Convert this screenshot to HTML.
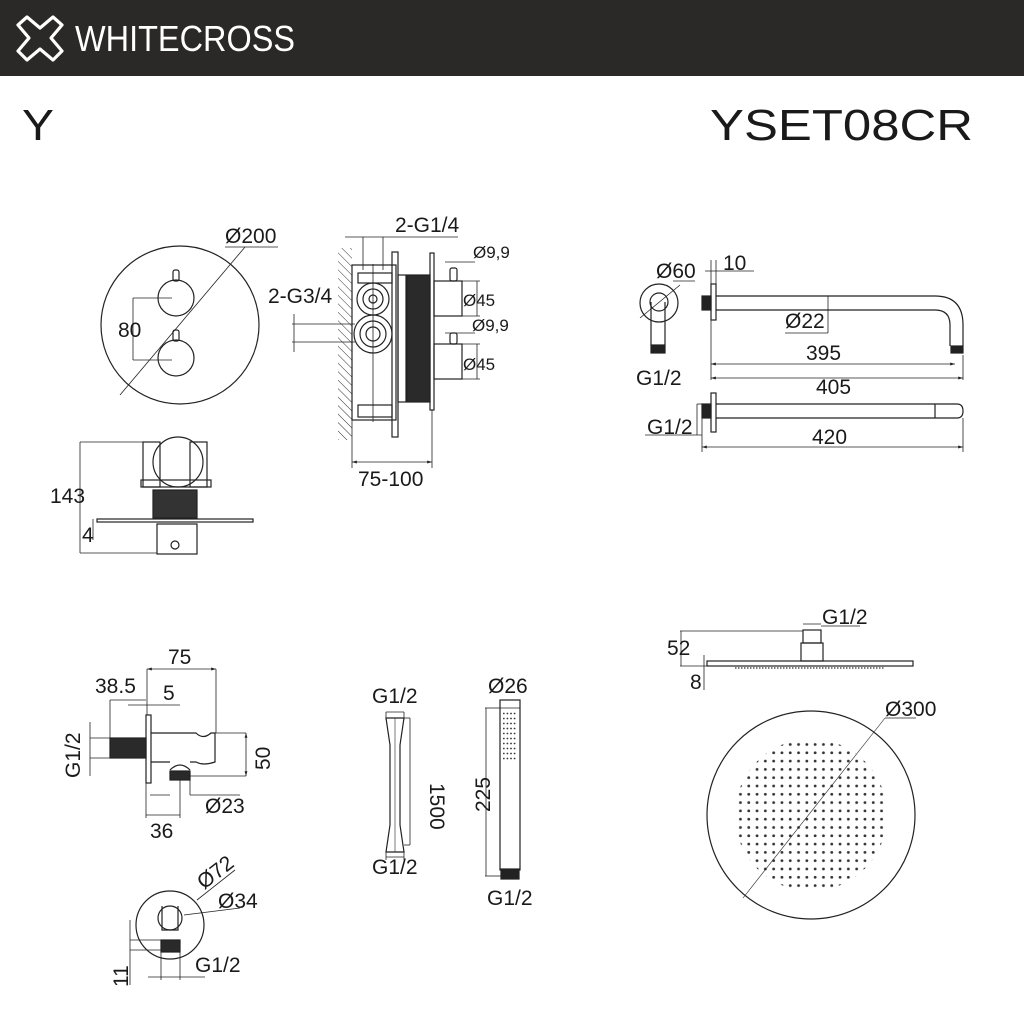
<!DOCTYPE html>
<html><head><meta charset="utf-8"><style>
html,body{margin:0;padding:0;background:#fff}
svg{display:block}
text{font-family:"Liberation Sans",sans-serif;fill:#1a1a1a}
</style></head><body>
<svg width="1024" height="1024" viewBox="0 0 1024 1024" xmlns="http://www.w3.org/2000/svg">
<defs>
<pattern id="hatch" width="6" height="6" patternUnits="userSpaceOnUse" patternTransform="rotate(-45)">
<line x1="0" y1="0" x2="0" y2="6" stroke="#333" stroke-width="1"/></pattern>
<pattern id="dotp" x="811" y="815" width="8.3" height="8.3" patternUnits="userSpaceOnUse">
<circle cx="4.15" cy="4.15" r="1.4" fill="#333"/></pattern>
<pattern id="dotq" x="502" y="711" width="3.6" height="5" patternUnits="userSpaceOnUse">
<circle cx="1.8" cy="2.5" r="0.9" fill="#333"/></pattern>
<marker id="ar" viewBox="0 0 10 10" refX="10" refY="5" markerWidth="6" markerHeight="6" orient="auto-start-reverse"><path d="M0,2 L10,5 L0,8z" fill="#222"/></marker>
</defs>
<rect x="0" y="0" width="1024" height="76" fill="#2b2927"/>
<path d="M27,17 L40,28 L53,17 L62,25 L51,38 L62,51 L53,60 L40,49 L27,60 L18,51 L29,38 L18,25 Z" fill="none" stroke="#fff" stroke-width="3.2" stroke-linejoin="round"/>
<text x="75" y="51" font-size="36" style="fill:#fff" textLength="220" lengthAdjust="spacingAndGlyphs">WHITECROSS</text>
<text x="22" y="140" font-size="44" textLength="32" lengthAdjust="spacingAndGlyphs">Y</text>
<text x="710" y="140" font-size="44" textLength="263" lengthAdjust="spacingAndGlyphs">YSET08CR</text>

<g fill="none" stroke="#222" stroke-width="1.2">
<circle cx="180" cy="325" r="79"/>
<circle cx="176" cy="298" r="18"/><circle cx="176" cy="358" r="18"/>
<rect x="173" y="270" width="6" height="11" rx="2"/><rect x="173" y="330" width="6" height="11" rx="2"/>
<line x1="120" y1="395" x2="245" y2="247" stroke-width="0.8"/>
<line x1="225" y1="247" x2="278" y2="247" stroke-width="0.8"/>
<line x1="133" y1="298" x2="172" y2="298" stroke-width="0.8"/>
<line x1="133" y1="360" x2="172" y2="360" stroke-width="0.8"/>
<line x1="133" y1="298" x2="133" y2="360" stroke-width="0.8"/>

<rect x="143" y="442" width="17" height="45"/><rect x="190" y="442" width="17" height="45"/>
<circle cx="178" cy="462" r="25"/>
<rect x="141" y="480" width="70" height="7"/>
<rect x="153" y="490" width="44" height="28" fill="#333"/>
<rect x="97" y="519" width="156" height="3"/>
<rect x="157" y="524" width="40" height="30"/>
<circle cx="175" cy="545" r="4"/>
<line x1="80" y1="442" x2="145" y2="442" stroke-width="0.8"/>
<line x1="80" y1="442" x2="80" y2="553" stroke-width="0.8"/>
<line x1="80" y1="553" x2="157" y2="553" stroke-width="0.8"/>
<line x1="93" y1="519" x2="93" y2="540" stroke-width="0.8"/>

<rect x="338" y="248" width="14" height="192" fill="url(#hatch)" stroke="none"/>
<rect x="352" y="265" width="44" height="155"/>
<rect x="358" y="273" width="34" height="10"/><rect x="358" y="405" width="34" height="12"/>
<rect x="392" y="252" width="6" height="185"/>
<rect x="398" y="275" width="8" height="127"/>
<rect x="407" y="275" width="23" height="127" fill="#2a2a2a"/>
<rect x="430" y="253" width="4" height="157"/>
<rect x="434" y="281" width="28" height="35"/><rect x="434" y="344" width="28" height="35"/>
<rect x="450" y="268" width="7" height="13" rx="2"/><rect x="450" y="333" width="7" height="11" rx="2"/>
<circle cx="373" cy="299" r="16"/><circle cx="373" cy="299" r="10"/><circle cx="373" cy="299" r="4"/>
<circle cx="373" cy="334" r="19"/><circle cx="373" cy="334" r="13"/><circle cx="373" cy="334" r="7"/>
<line x1="373" y1="264" x2="373" y2="422" stroke-width="0.8"/>
<line x1="345" y1="237" x2="458" y2="237" stroke-width="0.8"/>
<line x1="363" y1="237" x2="363" y2="270" stroke-width="0.8"/>
<line x1="383" y1="237" x2="383" y2="270" stroke-width="0.8"/>
<line x1="292" y1="324" x2="355" y2="324" stroke-width="0.8"/>
<line x1="292" y1="342" x2="355" y2="342" stroke-width="0.8"/>
<line x1="294" y1="314" x2="294" y2="352" stroke-width="0.8"/>
<line x1="352" y1="420" x2="352" y2="468" stroke-width="0.8"/>
<line x1="432" y1="410" x2="432" y2="468" stroke-width="0.8"/>
<line x1="352" y1="462" x2="432" y2="462" stroke-width="0.8" marker-start="url(#ar)" marker-end="url(#ar)"/>
<line x1="445" y1="262" x2="475" y2="262" stroke-width="0.8"/>
<line x1="462" y1="281" x2="480" y2="281" stroke-width="0.8"/>
<line x1="462" y1="316" x2="480" y2="316" stroke-width="0.8"/>
<line x1="477" y1="281" x2="477" y2="316" stroke-width="0.8"/>
<line x1="445" y1="333" x2="475" y2="333" stroke-width="0.8"/>
<line x1="462" y1="344" x2="480" y2="344" stroke-width="0.8"/>
<line x1="462" y1="379" x2="480" y2="379" stroke-width="0.8"/>
<line x1="477" y1="344" x2="477" y2="379" stroke-width="0.8"/>

<circle cx="659" cy="303" r="19"/><circle cx="659" cy="302" r="9"/>
<path d="M651,302 L651,345 M665,302 L665,345"/>
<rect x="651" y="345" width="14" height="8" fill="#222"/>
<line x1="640" y1="318" x2="680" y2="285" stroke-width="0.8"/>
<line x1="673" y1="281" x2="695" y2="281" stroke-width="0.8"/>
<rect x="702" y="296" width="9" height="14" fill="#222"/>
<rect x="711" y="284" width="5" height="36"/>
<path d="M716,296 L935,296 Q963,296 963,325 L963,346 M716,310 L935,310 Q950,310 950,325 L950,346"/>
<rect x="951" y="346" width="12" height="7" fill="#222"/>
<line x1="828" y1="296" x2="828" y2="333" stroke-width="0.8"/>
<line x1="785" y1="333" x2="828" y2="333" stroke-width="0.8"/>
<line x1="711" y1="260" x2="711" y2="380" stroke-width="0.8"/>
<line x1="716" y1="260" x2="716" y2="284" stroke-width="0.8"/>
<line x1="705" y1="271" x2="754" y2="271" stroke-width="0.8"/>
<line x1="711" y1="364" x2="955" y2="364" stroke-width="0.8" marker-start="url(#ar)" marker-end="url(#ar)"/>
<line x1="711" y1="378" x2="963" y2="378" stroke-width="0.8" marker-start="url(#ar)" marker-end="url(#ar)"/>
<line x1="963" y1="355" x2="963" y2="380" stroke-width="0.8"/>
<rect x="702" y="404" width="9" height="14" fill="#222"/>
<rect x="711" y="393" width="5" height="39"/>
<path d="M716,404 L957,404 Q963,404 963,411 Q963,418 957,418 L716,418 M935,404 L935,418"/>
<line x1="697" y1="404" x2="702" y2="404" stroke-width="0.8"/>
<line x1="645" y1="435" x2="702" y2="435" stroke-width="0.8"/>
<line x1="697" y1="404" x2="697" y2="435" stroke-width="0.8"/>
<line x1="702" y1="447" x2="963" y2="447" stroke-width="0.8" marker-start="url(#ar)" marker-end="url(#ar)"/>
<line x1="702" y1="418" x2="702" y2="452" stroke-width="0.8"/>
<line x1="963" y1="418" x2="963" y2="452" stroke-width="0.8"/>

<rect x="146" y="715" width="5" height="68"/>
<rect x="110" y="738" width="36" height="20" fill="#2a2a2a"/>
<path d="M151,733 L196,733 Q203,740 211,733 L215,733 L215,762 Q203,766 196,762 L190,762 M151,762 L170,762"/>
<path d="M170,770 Q180,760 190,770"/>
<rect x="170" y="771" width="20" height="9" fill="#2a2a2a"/>
<line x1="147" y1="669" x2="216" y2="669" stroke-width="0.8" marker-start="url(#ar)" marker-end="url(#ar)"/>
<line x1="147" y1="669" x2="147" y2="715" stroke-width="0.8"/>
<line x1="216" y1="669" x2="216" y2="733" stroke-width="0.8"/>
<line x1="110" y1="700" x2="146" y2="700" stroke-width="0.8"/>
<line x1="110" y1="700" x2="110" y2="738" stroke-width="0.8"/>
<line x1="128" y1="705" x2="180" y2="705" stroke-width="0.8"/>
<line x1="90" y1="738" x2="110" y2="738" stroke-width="0.8"/>
<line x1="90" y1="758" x2="110" y2="758" stroke-width="0.8"/>
<line x1="90" y1="722" x2="90" y2="776" stroke-width="0.8"/>
<line x1="215" y1="733" x2="246" y2="733" stroke-width="0.8"/>
<line x1="190" y1="776" x2="246" y2="776" stroke-width="0.8"/>
<line x1="246" y1="733" x2="246" y2="776" stroke-width="0.8" marker-start="url(#ar)" marker-end="url(#ar)"/>
<line x1="146" y1="783" x2="146" y2="818" stroke-width="0.8"/>
<line x1="180" y1="780" x2="180" y2="818" stroke-width="0.8"/>
<line x1="146" y1="815" x2="180" y2="815" stroke-width="0.8"/>
<line x1="190" y1="780" x2="190" y2="795" stroke-width="0.8"/>
<line x1="150" y1="795" x2="170" y2="795" stroke-width="0.8"/>
<line x1="190" y1="795" x2="240" y2="795" stroke-width="0.8"/>
<circle cx="170" cy="925" r="34"/><circle cx="170" cy="918" r="12"/>
<path d="M162,906 L162,930 L178,930 L178,906"/>
<rect x="161" y="940" width="19" height="12" fill="#2a2a2a"/>
<line x1="197" y1="900" x2="235" y2="870" stroke-width="0.8"/>
<line x1="184" y1="915" x2="240" y2="908" stroke-width="0.8"/>
<line x1="130" y1="940" x2="161" y2="940" stroke-width="0.8"/>
<line x1="130" y1="950" x2="161" y2="950" stroke-width="0.8"/>
<line x1="130" y1="920" x2="130" y2="985" stroke-width="0.8"/>
<line x1="161" y1="952" x2="161" y2="980" stroke-width="0.8"/>
<line x1="180" y1="952" x2="180" y2="980" stroke-width="0.8"/>
<line x1="148" y1="977" x2="205" y2="977" stroke-width="0.8"/>
<path d="M386,718 L404,718 L400,745 L400,825 L404,852 L386,852 L390,825 L390,745 Z"/>
<line x1="395" y1="718" x2="395" y2="852" stroke-width="0.6"/>
<line x1="386" y1="712" x2="404" y2="712" stroke-width="0.8"/>
<line x1="386" y1="712" x2="386" y2="720" stroke-width="0.8"/>
<line x1="404" y1="712" x2="404" y2="720" stroke-width="0.8"/>
<line x1="386" y1="852" x2="386" y2="860" stroke-width="0.8"/>
<line x1="404" y1="852" x2="404" y2="860" stroke-width="0.8"/>
<line x1="386" y1="857" x2="404" y2="857" stroke-width="0.8"/>
<line x1="404" y1="718" x2="410" y2="718" stroke-width="0.8"/>
<line x1="404" y1="845" x2="410" y2="845" stroke-width="0.8"/>
<line x1="410" y1="718" x2="410" y2="845" stroke-width="0.8"/>
<rect x="500" y="700" width="20" height="170"/>
<line x1="500" y1="708" x2="520" y2="708" stroke-width="0.8"/>
<rect x="503" y="711" width="14" height="50" fill="url(#dotq)" stroke="none"/>
<rect x="501" y="869" width="18" height="10" fill="#222"/>
<line x1="485" y1="708" x2="500" y2="708" stroke-width="0.8"/>
<line x1="485" y1="876" x2="501" y2="876" stroke-width="0.8"/>
<line x1="486" y1="708" x2="486" y2="876" stroke-width="0.8"/>
<rect x="803" y="630" width="18" height="13"/><rect x="801" y="643" width="22" height="18"/>
<rect x="707" y="661" width="206" height="5"/>
<line x1="735" y1="668" x2="885" y2="668" stroke="#555" stroke-width="1.5" stroke-dasharray="1.5,1.5"/>
<line x1="803" y1="624" x2="821" y2="624" stroke-width="0.8"/>
<line x1="821" y1="626" x2="860" y2="626" stroke-width="0.8"/>
<line x1="680" y1="631" x2="803" y2="631" stroke-width="0.8"/>
<line x1="680" y1="666" x2="707" y2="666" stroke-width="0.8"/>
<line x1="681" y1="631" x2="681" y2="666" stroke-width="0.8"/>
<line x1="704" y1="655" x2="704" y2="690" stroke-width="0.8"/>
<circle cx="811" cy="815" r="104"/>
<circle cx="811" cy="815" r="76" fill="url(#dotp)" stroke="none"/>
<line x1="743" y1="898" x2="885" y2="718" stroke-width="0.6"/>
<line x1="885" y1="718" x2="916" y2="718" stroke-width="0.8"/>
</g>

<g font-size="21">
<text x="225" y="243">Ø200</text>
<text x="118" y="337">80</text>
<text x="50" y="503">143</text>
<text x="82" y="542">4</text>
<text x="395" y="232">2-G1/4</text>
<text x="268" y="303">2-G3/4</text>
<text x="358" y="486">75-100</text>
<text x="473" y="258" font-size="17">Ø9,9</text>
<text x="463" y="306" font-size="17">Ø45</text>
<text x="472" y="331" font-size="17">Ø9,9</text>
<text x="463" y="370" font-size="17">Ø45</text>
<text x="656" y="278">Ø60</text>
<text x="723" y="270">10</text>
<text x="785" y="328">Ø22</text>
<text x="806" y="360">395</text>
<text x="816" y="394">405</text>
<text x="636" y="385">G1/2</text>
<text x="647" y="434">G1/2</text>
<text x="812" y="444">420</text>
<text x="822" y="624">G1/2</text>
<text x="667" y="655">52</text>
<text x="690" y="689">8</text>
<text x="885" y="716">Ø300</text>
<text x="168" y="664">75</text>
<text x="95" y="693">38.5</text>
<text x="163" y="700">5</text>
<text x="205" y="813">Ø23</text>
<text x="150" y="838">36</text>
<text x="372" y="703">G1/2</text>
<text x="372" y="874">G1/2</text>
<text x="488" y="693">Ø26</text>
<text x="487" y="905">G1/2</text>
<text x="195" y="972">G1/2</text>
<text x="218" y="908">Ø34</text>
<text transform="translate(204,890) rotate(-38)">Ø72</text>
<text transform="translate(80,778) rotate(-90)">G1/2</text>
<text transform="translate(270,770) rotate(-90)">50</text>
<text transform="translate(430,783) rotate(90)">1500</text>
<text transform="translate(490,812) rotate(-90)">225</text>
<text transform="translate(128,987) rotate(-90)">11</text>
</g>
</svg>
</body></html>
